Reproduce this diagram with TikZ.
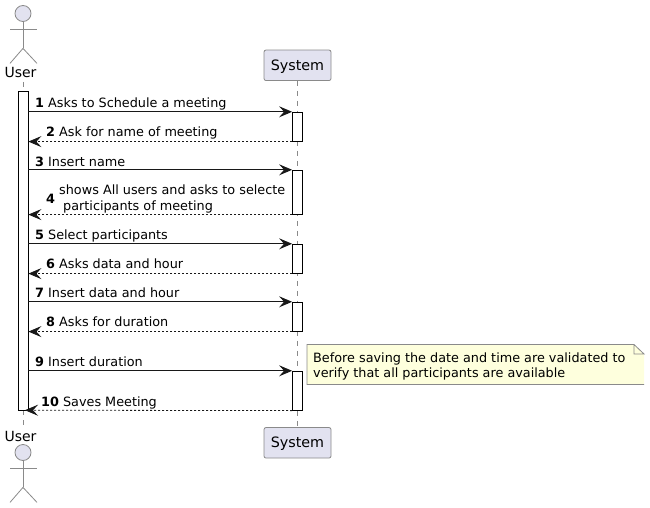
\documentclass[tikz,border=0pt]{standalone}
\usepackage{fontspec}
\setmainfont{DejaVu Sans}
\usetikzlibrary{arrows.meta, positioning}

\definecolor{partfill}{HTML}{E2E2F0}
\definecolor{partline}{HTML}{8A8A8A}
\definecolor{notefill}{HTML}{FEFFDD}
\definecolor{msgline}{HTML}{181818}

\begin{document}
\begin{tikzpicture}[
    x=1pt, y=-1pt,
    arrow/.style={-{Stealth[length=13pt, width=11pt, inset=5pt]}, line width=0.9pt, draw=msgline},
    reply/.style={arrow, dash pattern=on 2pt off 2pt, line width=0.8pt},
    lifeline/.style={draw=partline, dash pattern=on 5pt off 5pt, line width=0.8pt},
    participant/.style={draw=partline, fill=partfill, rounded corners=2pt, line width=0.8pt, minimum width=67pt, minimum height=30.5pt, inner sep=0pt, text height=12pt, text depth=2pt, font=\fontsize{14.3}{16}\selectfont},
    bar/.style={draw=black, fill=white, line width=0.8pt, minimum width=10pt, inner sep=0pt},
    msglabel/.style={anchor=base west, inner sep=0pt, font=\fontsize{12.8}{16}\selectfont, text=black},
    actorlabel/.style={anchor=base, inner sep=0pt, font=\fontsize{14}{16}\selectfont},
    head/.style={circle, draw=partline, fill=partfill, line width=0.8pt, minimum size=16pt, inner sep=0pt},
    limb/.style={draw=partline, line width=0.8pt}
]
    \useasboundingbox (0, 0) rectangle (650, 508);

    % === Participants ===
    \node[actorlabel] (userTop) at (20.5, 78) {User};
    \node[actorlabel] (userBottom) at (20.5, 441) {User};
    \node[participant] (systemTop) at (297.5, 65.3) {System};
    \node[participant] (systemBottom) at (297.5, 442.8) {System};

    % Actors
    \foreach \name/\y in {actorTop/13.5, actorBottom/452.5} {
        \begin{scope}[shift={(23, \y)}]
            \node[head] (\name) at (0, 0) {};
            \draw[limb] (\name.south) -- ++(0, 26.5) coordinate (\name hip);
            \draw[limb] (-13, 15.5) -- (14, 15.5);
            \draw[limb] (\name hip) -- ++(-13, 15);
            \draw[limb] (\name hip) -- ++(14, 15);
        \end{scope}
    }

    % === Activation bars ===
    \coordinate (userHigh) at (23, 91);
    \coordinate (userLow) at (23, 410);
    \draw[lifeline] (23, 82) -- (userHigh);
    \draw[lifeline] (userLow) -- (23, 428);
    \draw[lifeline] (systemTop) -- (systemBottom);

    \node[bar, minimum height=319.5pt] (userBar) at (23, 250.7) {};
    \node[bar, minimum height=29pt] (bar1) at (297.5, 126.7) {};
    \node[bar, minimum height=44pt] (bar2) at (297.5, 192.2) {};
    \node[bar, minimum height=29pt] (bar3) at (297.5, 258.7) {};
    \node[bar, minimum height=29pt] (bar4) at (297.5, 316.7) {};
    \node[bar, minimum height=39pt] (bar5) at (297.5, 390.7) {};

    % === Messages ===
    \coordinate (u1) at (userBar.east |- bar1.north);
    \coordinate (u2) at (userBar.east |- bar1.south);
    \coordinate (u3) at (userBar.east |- bar2.north);
    \coordinate (u4) at (userBar.east |- bar2.south);
    \coordinate (u5) at (userBar.east |- bar3.north);
    \coordinate (u6) at (userBar.east |- bar3.south);
    \coordinate (u7) at (userBar.east |- bar4.north);
    \coordinate (u8) at (userBar.east |- bar4.south);
    \coordinate (u9) at (userBar.east |- bar5.north);
    \coordinate (u10) at (25, 410.2);

    \draw[arrow] (u1) -- (bar1.north west);
    \draw[reply] (bar1.south west) -- (u2);
    \draw[arrow] (u3) -- (bar2.north west);
    \draw[reply] (bar2.south west) -- (u4);
    \draw[arrow] (u5) -- (bar3.north west);
    \draw[reply] (bar3.south west) -- (u6);
    \draw[arrow] (u7) -- (bar4.north west);
    \draw[reply] (bar4.south west) -- (u8);
    \draw[arrow] (u9) -- (bar5.north west);
    \draw[reply] (bar5.south west) -- (u10);

    % Labels
    \node[msglabel] (msg1) at (35, 107) {\textbf{1} Asks to Schedule a meeting};
    \node[msglabel] (msg2) at (46, 136) {\textbf{2} Ask for name of meeting};
    \node[msglabel] (msg3) at (35, 166) {\textbf{3} Insert name};
    \node[msglabel] (msg4) at (46, 203) {\textbf{4}};
    \node[msglabel] (msg4a) at (59, 194) {shows All users and asks to selecte};
    \node[msglabel] (msg4b) at (63, 210) {participants of meeting};
    \node[msglabel] (msg5) at (35, 239) {\textbf{5} Select participants};
    \node[msglabel] (msg6) at (46, 268) {\textbf{6} Asks data and hour};
    \node[msglabel] (msg7) at (35, 297) {\textbf{7} Insert data and hour};
    \node[msglabel] (msg8) at (46, 326) {\textbf{8} Asks for duration};
    \node[msglabel] (msg9) at (35, 366) {\textbf{9} Insert duration};
    \node[msglabel] (msg10) at (41, 406) {\textbf{10} Saves Meeting};

    % === Note (cut off on the right) ===
    \fill[notefill] (307, 344.5) -- (634, 344.5) -- (644, 354) -- (644, 384.5) -- (307, 384.5) -- cycle;
    \draw[draw=partline, line width=0.8pt] (644, 384.5) -- (307, 384.5) -- (307, 344.5) -- (634, 344.5) -- (644, 354) -- (634, 354) -- (634, 344.5);
    \node[msglabel] (noteA) at (313, 362) {Before saving the date and time are validated to};
    \node[msglabel] (noteB) at (313, 377) {verify that all participants are available};
\end{tikzpicture}
\end{document}
